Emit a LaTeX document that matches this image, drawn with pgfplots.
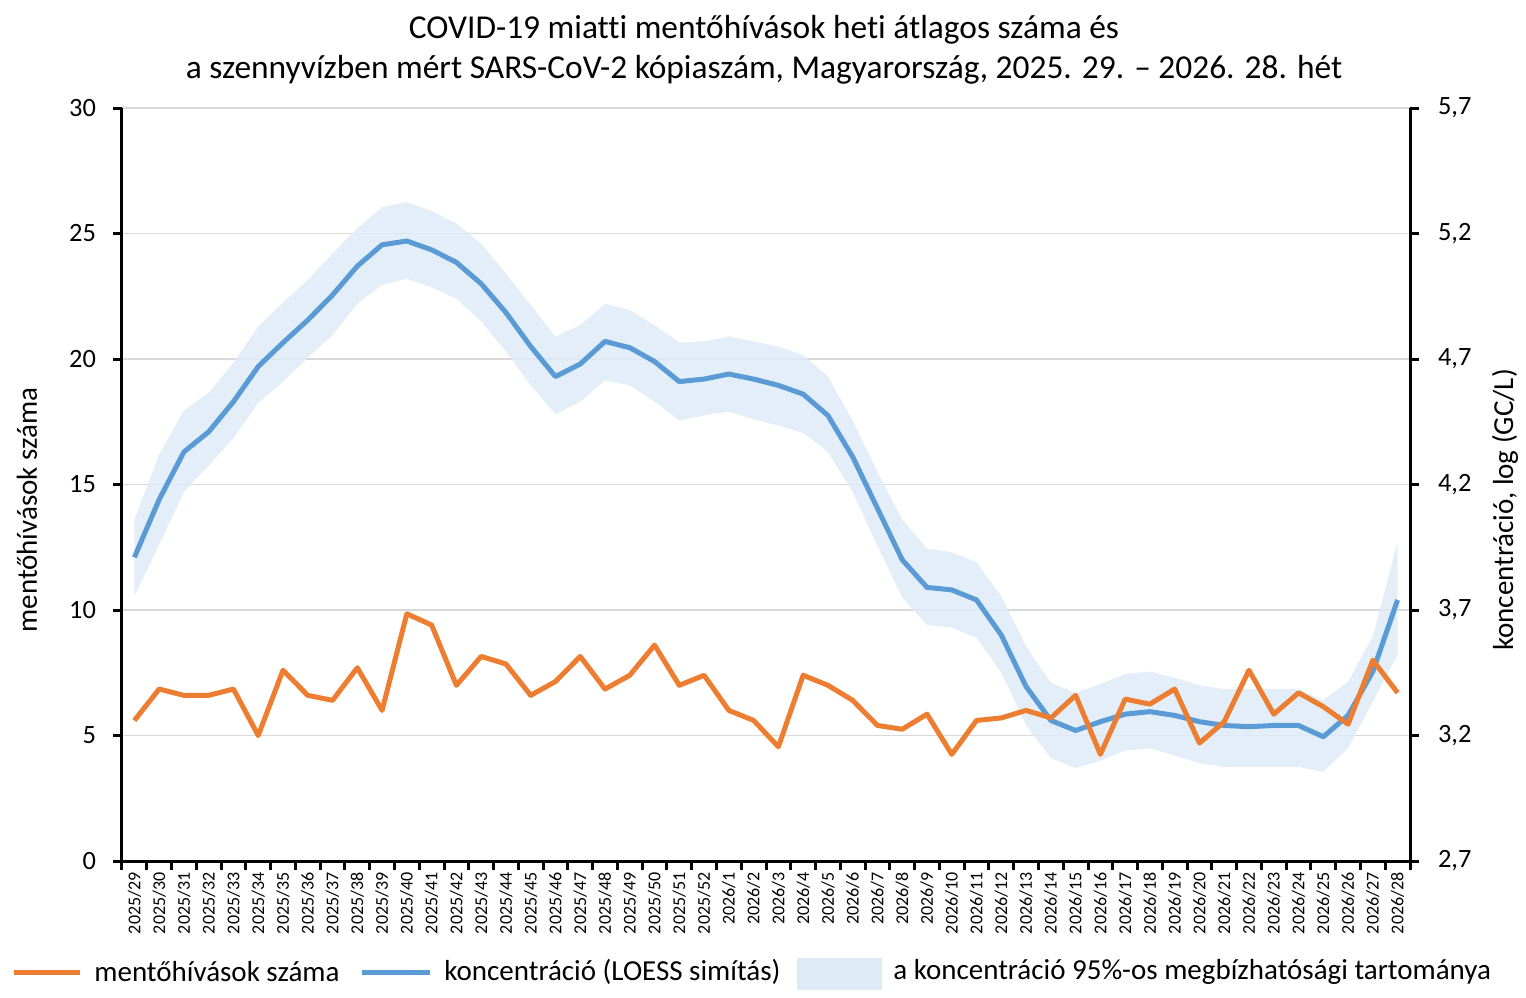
\documentclass[border=0pt]{standalone}
\usepackage{pgfplots}
\pgfplotsset{compat=1.18}
\usepackage{pgfplotstable}
\usepgfplotslibrary{fillbetween}
\usepackage{fontspec}
\setmainfont{Carlito}[Ligatures={NoCommon}]
\definecolor{orangeS}{HTML}{ED7D31}
\definecolor{blueS}{HTML}{5B9BD5}
\definecolor{bandS}{HTML}{DEEBF7}
\definecolor{gridS}{HTML}{D9D9D9}

\pgfplotstableread{
x calls
0 5.6
1 6.85
2 6.6
3 6.6
4 6.85
5 5.0
6 7.6
7 6.6
8 6.4
9 7.7
10 6.0
11 9.85
12 9.4
13 7.0
14 8.15
15 7.85
16 6.6
17 7.15
18 8.15
19 6.85
20 7.4
21 8.6
22 7.0
23 7.4
24 6.0
25 5.6
26 4.55
27 7.4
28 7.0
29 6.4
30 5.4
31 5.25
32 5.85
33 4.25
34 5.6
35 5.7
36 6.0
37 5.7
38 6.6
39 4.25
40 6.45
41 6.25
42 6.85
43 4.7
44 5.55
45 7.6
46 5.85
47 6.7
48 6.15
49 5.45
50 8.0
51 6.7
}\calls

\pgfplotstableread{
x conc lo hi
0 3.91 3.755 4.06
1 4.14 3.96 4.32
2 4.33 4.17 4.495
3 4.41 4.275 4.565
4 4.53 4.385 4.685
5 4.67 4.525 4.83
6 4.765 4.61 4.925
7 4.855 4.705 5.015
8 4.955 4.795 5.12
9 5.07 4.92 5.22
10 5.155 4.995 5.305
11 5.17 5.02 5.325
12 5.135 4.985 5.29
13 5.085 4.94 5.24
14 5.0 4.85 5.16
15 4.885 4.73 5.04
16 4.75 4.595 4.915
17 4.63 4.48 4.79
18 4.68 4.53 4.835
19 4.77 4.615 4.92
20 4.745 4.595 4.895
21 4.69 4.53 4.835
22 4.61 4.455 4.765
23 4.62 4.475 4.77
24 4.64 4.49 4.79
25 4.62 4.46 4.77
26 4.595 4.435 4.75
27 4.56 4.405 4.715
28 4.475 4.33 4.63
29 4.31 4.17 4.455
30 4.105 3.955 4.25
31 3.9 3.75 4.06
32 3.79 3.64 3.945
33 3.78 3.63 3.93
34 3.74 3.59 3.89
35 3.6 3.45 3.755
36 3.395 3.24 3.555
37 3.26 3.11 3.41
38 3.22 3.07 3.37
39 3.255 3.1 3.405
40 3.285 3.14 3.445
41 3.295 3.15 3.455
42 3.28 3.12 3.43
43 3.255 3.09 3.4
44 3.24 3.075 3.385
45 3.235 3.075 3.385
46 3.24 3.075 3.385
47 3.24 3.075 3.385
48 3.195 3.055 3.34
49 3.28 3.15 3.415
50 3.455 3.335 3.595
51 3.74 3.52 3.97
}\conc

\begin{document}
\begin{tikzpicture}
\begin{axis}[
  at={(0,0)}, anchor=south west,
  scale only axis, width=644pt, height=376.5pt,
  xmin=-0.5, xmax=51.5,
  ymin=2.7, ymax=5.7,
  axis x line=none,
  axis y line*=right,
  ytick={2.7,3.2,3.7,4.2,4.7,5.2,5.7},
  ymajorgrids, grid style={gridS, line width=0.6pt},
  yticklabel style={font=\fontsize{13.2}{15}\selectfont, xshift=6pt, /pgf/number format/.cd, fixed, fixed zerofill, precision=1, use comma},
  /pgf/number format/assume math mode=true,
  axis line style={black, line width=1.5pt, -},
  major tick length=4.5pt, tick align=outside, tick style={black, line width=1.5pt},
]
\addplot[name path=hi, draw=none, forget plot] table[x=x,y=hi]{\conc};
\addplot[name path=lo, draw=none, forget plot] table[x=x,y=lo]{\conc};
\addplot[bandS, fill opacity=0.85, draw=none] fill between[of=hi and lo];
\addplot[blueS, line width=2.5pt, line join=round] table[x=x,y=conc]{\conc};
\end{axis}
\begin{axis}[
  at={(0,0)}, anchor=south west,
  scale only axis, width=644pt, height=376.5pt,
  xmin=-0.5, xmax=51.5,
  ymin=0, ymax=30,
  axis x line*=bottom,
  axis y line*=left,
  ytick={0,5,10,15,20,25,30},
  xtick={-0.5,0.5,...,51.5},
  x tick label as interval,
  xticklabels={2025/29,2025/30,2025/31,2025/32,2025/33,2025/34,2025/35,2025/36,2025/37,2025/38,2025/39,2025/40,2025/41,2025/42,2025/43,2025/44,2025/45,2025/46,2025/47,2025/48,2025/49,2025/50,2025/51,2025/52,2026/1,2026/2,2026/3,2026/4,2026/5,2026/6,2026/7,2026/8,2026/9,2026/10,2026/11,2026/12,2026/13,2026/14,2026/15,2026/16,2026/17,2026/18,2026/19,2026/20,2026/21,2026/22,2026/23,2026/24,2026/25,2026/26,2026/27,2026/28},
  x tick label style={rotate=90, anchor=east, font=\fontsize{9}{10}\selectfont, inner sep=1pt},
  yticklabel style={font=\fontsize{13.2}{15}\selectfont, xshift=-5pt},
  /pgf/number format/assume math mode=true,
  axis line style={black, line width=1.5pt, -},
  major tick length=4.5pt, tick align=outside, tick style={black, line width=1.5pt},
]
\addplot[orangeS, line width=2.5pt, line join=round] table[x=x,y=calls]{\calls};
\end{axis}
% titles and labels
\node[font=\fontsize{16.7}{19}\selectfont] at (321pt,415.5pt) {COVID-19 miatti mentőhívások heti átlagos száma és};
\node[font=\fontsize{16.7}{19}\selectfont] at (321pt,395.5pt) {a szennyvízben mért SARS-CoV-2 kópiaszám, Magyarország, 2025. 29. – 2026. 28. hét};
\node[rotate=90, font=\fontsize{14.5}{16}\selectfont] at (-47.5pt,175.5pt) {mentőhívások száma};
\node[rotate=90, font=\fontsize{14.5}{16}\selectfont] at (691.5pt,175.5pt) {koncentráció, log (GC/L)};
% legend
\draw[orangeS, line width=2.5pt] (-54pt,-55.5pt) -- (-21pt,-55.5pt);
\node[anchor=west, inner sep=0pt, font=\fontsize{14.5}{16}\selectfont] at (-14pt,-55.5pt) {mentőhívások száma};
\draw[blueS, line width=2.5pt] (120pt,-55.5pt) -- (154pt,-55.5pt);
\node[anchor=west, inner sep=0pt, font=\fontsize{14.5}{16}\selectfont] at (161pt,-55.5pt) {koncentráció (LOESS simítás)};
\fill[bandS] (337.5pt,-48.5pt) rectangle (380pt,-64.5pt);
\node[anchor=west, inner sep=0pt, font=\fontsize{14.5}{16}\selectfont] at (385.5pt,-55.5pt) {a koncentráció 95\%-os megbízhatósági tartománya};
\pgfresetboundingbox
\useasboundingbox (-61pt,-68pt) rectangle (702pt,430.5pt);
\end{tikzpicture}
\end{document}
